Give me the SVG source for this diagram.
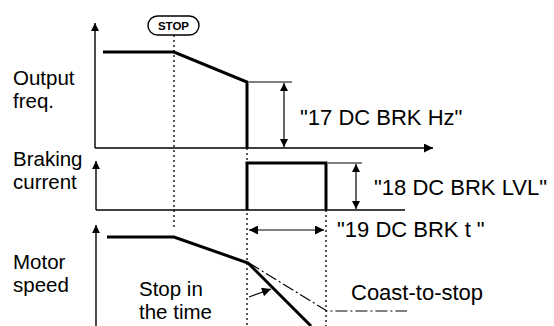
<svg xmlns="http://www.w3.org/2000/svg" width="554" height="326" viewBox="0 0 554 326">
<style>
  .lbl { font-family: "Liberation Sans", Arial, sans-serif; font-size: 22px; fill: #000; }
  .ml { font-family: "Liberation Sans", Arial, sans-serif; font-size: 20.5px; fill: #000; }
  .axis { stroke: #000; stroke-width: 1.4; fill: none; }
  .thin { stroke: #000; stroke-width: 1.2; fill: none; }
  .sig { stroke: #000; stroke-width: 3; fill: none; stroke-linejoin: miter; }
  .dot { stroke: #000; stroke-width: 1.3; stroke-dasharray: 2 3; fill: none; }
  .dashdot { stroke: #000; stroke-width: 1.2; stroke-dasharray: 12 3 2 3; fill: none; }
</style>
<defs>
  <marker id="ah" viewBox="0 0 10 10" refX="10" refY="5" markerWidth="10" markerHeight="8" markerUnits="userSpaceOnUse" orient="auto-start-reverse">
    <path d="M0,0 L10,5 L0,10 z" fill="#000"/>
  </marker>
  <marker id="ahs" viewBox="0 0 10 10" refX="10" refY="5" markerWidth="13" markerHeight="9" markerUnits="userSpaceOnUse" orient="auto-start-reverse">
    <path d="M0,0 L10,5 L0,10 z" fill="#000"/>
  </marker>
</defs>
<rect width="554" height="326" fill="#fff"/>

<g id="connectors">
  <!-- axes -->
  <path class="axis" d="M95,148 V23" marker-end="url(#ah)"/>
  <path class="axis" d="M95,148 H433" marker-end="url(#ahs)"/>
  <path class="axis" d="M96,210 V161" marker-end="url(#ah)"/>
  <path class="axis" d="M96,210 H405"/>
  <path class="axis" d="M96,326 V225" marker-end="url(#ah)"/>
  <!-- dotted guides -->
  <path class="dot" d="M174,35 V228"/>
  <path class="dot" d="M247,148 V326"/>
  <path class="dot" d="M326,210 V326"/>
  <!-- output freq signal -->
  <path class="sig" d="M103,52 H174 L247,82 V148"/>
  <!-- extension & dimension 17 -->
  <path class="thin" d="M249,82 H292"/>
  <path class="thin" d="M284,83 V147" marker-start="url(#ah)" marker-end="url(#ah)"/>
  <!-- braking current -->
  <path class="sig" d="M247,210 V163 H326 V210"/>
  <path class="thin" d="M328,163 H362"/>
  <path class="thin" d="M356,164 V209" marker-start="url(#ah)" marker-end="url(#ah)"/>
  <!-- 19 dimension -->
  <path class="thin" d="M249,230 H324" marker-start="url(#ahs)" marker-end="url(#ahs)"/>
  <!-- motor speed -->
  <path class="sig" d="M107,237 H174 L248,263 L311,326"/>
  <path class="dashdot" d="M249,263 L327,311 H407"/>
  <path class="thin" d="M249,297 L271,289" marker-end="url(#ahs)"/>
</g>

<g id="stop">
  <rect x="148" y="16" width="51" height="19" rx="9.5" fill="#fff" stroke="#000" stroke-width="1.4"/>
  <text x="173.5" y="30" text-anchor="middle" font-family="Liberation Sans, Arial, sans-serif" font-weight="bold" font-size="11.5">STOP</text>
</g>

<g id="label-output">
  <text class="ml" x="13" y="85">Output</text>
  <text class="ml" x="13" y="108">freq.</text>
</g>
<g id="label-braking">
  <text class="ml" x="13" y="166">Braking</text>
  <text class="ml" x="13" y="189">current</text>
</g>
<g id="label-motor">
  <text class="ml" x="13" y="269">Motor</text>
  <text class="ml" x="13" y="292">speed</text>
</g>
<g id="label-17">
  <text class="lbl" x="300" y="125">"17 DC BRK Hz"</text>
</g>
<g id="label-18">
  <text class="lbl" x="374" y="195">"18 DC BRK LVL"</text>
</g>
<g id="label-19">
  <text class="lbl" x="337" y="237">"19 DC BRK t "</text>
</g>
<g id="label-stoptime">
  <text class="ml" x="139" y="296">Stop in</text>
  <text class="ml" x="139" y="319">the time</text>
</g>
<g id="label-coast">
  <text class="lbl" x="351" y="300">Coast-to-stop</text>
</g>
</svg>
